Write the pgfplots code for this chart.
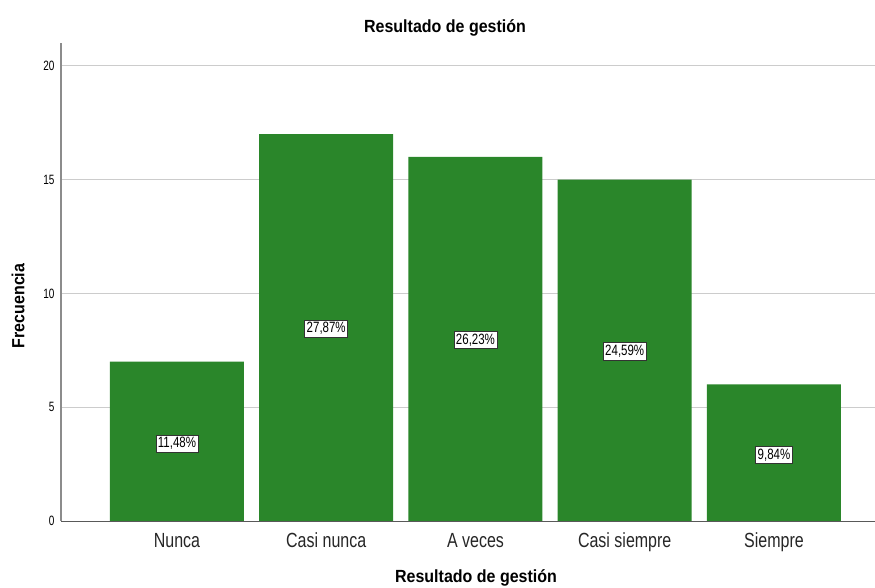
\documentclass[border=0pt]{standalone}
\usepackage{fontspec}
\setmainfont{Liberation Sans}
\usepackage{pgfplots}
\pgfplotsset{compat=1.18}
\definecolor{bargreen}{RGB}{42,134,42}
\begin{document}
\begin{tikzpicture}[x=1pt,y=1pt]
\path[use as bounding box] (0,0) rectangle (875,588);
\begin{axis}[
  at={(61pt,67pt)}, anchor=south west,
  scale only axis, width=814pt, height=478pt,
  xmin=-0.777, xmax=4.677, ymin=0, ymax=21,
  axis x line*=bottom, axis y line*=left,
  x axis line style={draw=black!65, line width=0.9pt, -},
  y axis line style={draw=black!45, line width=1.2pt, -},
  ytick={0,5,10,15,20},
  ymajorgrids, grid style={draw=black!20, line width=0.9pt},
  xtick={0,1,2,3,4},
  xticklabels={\scalebox{1}[1.28]{Nunca},\scalebox{1}[1.28]{Casi nunca},\scalebox{1}[1.28]{A veces},\scalebox{1}[1.28]{Casi siempre},\scalebox{1}[1.28]{Siempre}},
  major tick length=0pt,
  /pgf/number format/assume math mode=true,
  yticklabel={\scalebox{1}[1.35]{\pgfmathprintnumber{\tick}}},
  yticklabel style={font=\fontsize{10}{12}\selectfont, xshift=-3pt},
  xticklabel style={font=\fontsize{16}{18}\selectfont, anchor=base, yshift=-27pt, text=black!85},
  clip=false,
]
\addplot[ybar, bar width=0.898, fill=bargreen, draw=none]
  coordinates {(0,7) (1,17) (2,16) (3,15) (4,6)};
\addplot[draw=none, mark=none, nodes near coords={\scalebox{1}[1.3]{\pgfplotspointmeta}}, point meta=explicit symbolic,
  every node near coord/.style={anchor=center, draw=black!80, fill=white,
    font=\fontsize{11.5}{12}\selectfont, inner xsep=2pt, inner ysep=2.5pt, line width=0.7pt}]
  coordinates {(0,3.4) [11,48\%] (1,8.45) [27,87\%] (2,7.95) [26,23\%] (3,7.45) [24,59\%] (4,2.9) [9,84\%]};
\end{axis}
\node[font=\bfseries\fontsize{16}{18}\selectfont] at (445,560) {\scalebox{1}[1.1]{Resultado de gestión}};
\node[font=\bfseries\fontsize{16}{18}\selectfont] at (476,10) {\scalebox{1}[1.1]{Resultado de gestión}};
\node[font=\bfseries\fontsize{16}{18}\selectfont, rotate=90] at (18,282) {\scalebox{1}[1.1]{Frecuencia}};
\end{tikzpicture}
\end{document}
